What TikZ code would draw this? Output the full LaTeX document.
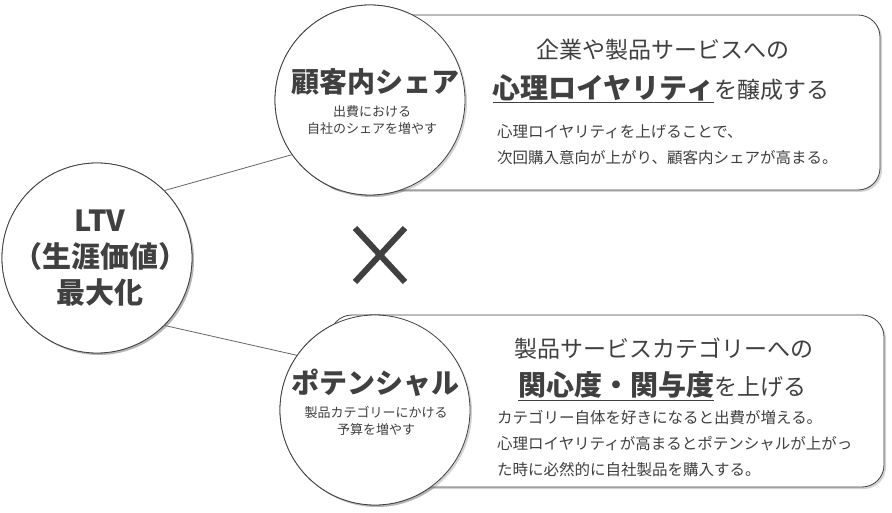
\documentclass[tikz,border=0pt]{standalone}
\usepackage{fontspec}
\setmainfont{Noto Sans CJK JP}
\usetikzlibrary{shadows}
\definecolor{tx}{HTML}{404040}
\begin{document}
\begin{tikzpicture}[x=1pt,y=-1pt,
  box/.style={draw=black!75,line width=0.8pt,fill=white,rounded corners=22pt,drop shadow={shadow xshift=2pt,shadow yshift=-2pt,opacity=0.35}},
  circ/.style={draw=black!75,line width=0.8pt,fill=white,circle,minimum size=190pt,drop shadow={shadow xshift=2pt,shadow yshift=-2pt,opacity=0.35}},
  txt/.style={text=tx,align=center,inner sep=0pt},
  link/.style={draw=black!60,line width=0.8pt}]
\useasboundingbox (0,0) rectangle (892,513);
\node[circ] (ltv) at (97,258) {};
\node[circ] (top) at (370,100) {};
\node[circ] (bot) at (375,410) {};
\draw[link] (ltv.45) -- (top.215);
\draw[link] (ltv.-45) -- (bot.145);
\draw[box] (320,15) rectangle (880,190);
\draw[box] (330,315) rectangle (884,487);
\node[circ] (top2) at (370,100) {};
\node[circ] (bot2) at (375,410) {};
\node[circ] (ltv2) at (97,258) {};
\node[txt,font=\bfseries\fontsize{29}{36}\selectfont] (ltvt) at (100,258) {LTV\\（生涯価値）\\最大化};
\node[txt,font=\bfseries\fontsize{28}{30}\selectfont] (tt) at (375,82) {顧客内シェア};
\node[txt,font=\fontsize{13}{17}\selectfont] (ts) at (372,120) {出費における\\自社のシェアを増やす};
\node[txt,font=\bfseries\fontsize{28}{30}\selectfont] (bt) at (375,383) {ポテンシャル};
\node[txt,font=\fontsize{13}{17}\selectfont] (bs) at (376,421) {製品カテゴリーにかける\\予算を増やす};
\node[txt,font=\fontsize{23}{26}\selectfont] (h1) at (663,50) {企業や製品サービスへの};
\node[txt,font=\fontsize{23}{26}\selectfont] (h2) at (661,89) {\textbf{\fontsize{28}{30}\selectfont\underline{心理ロイヤリティ}}を醸成する};
\node[txt,align=left,anchor=west,font=\fontsize{15.5}{26}\selectfont] (b1) at (497,145) {心理ロイヤリティを上げることで、\\次回購入意向が上がり、顧客内シェアが高まる。};
\node[txt,font=\fontsize{23}{26}\selectfont] (h3) at (664,349) {製品サービスカテゴリーへの};
\node[txt,font=\fontsize{23}{26}\selectfont] (h4) at (662,386) {\textbf{\fontsize{28}{30}\selectfont\underline{関心度・関与度}}を上げる};
\node[txt,align=left,anchor=west,font=\fontsize{15.5}{26}\selectfont] (b2) at (497,444) {カテゴリー自体を好きになると出費が増える。\\心理ロイヤリティが高まるとポテンシャルが上がっ\\た時に必然的に自社製品を購入する。};
\draw[line width=6pt,black!75] (355,228) -- (405,282) (405,228) -- (355,282);
\end{tikzpicture}
\end{document}
